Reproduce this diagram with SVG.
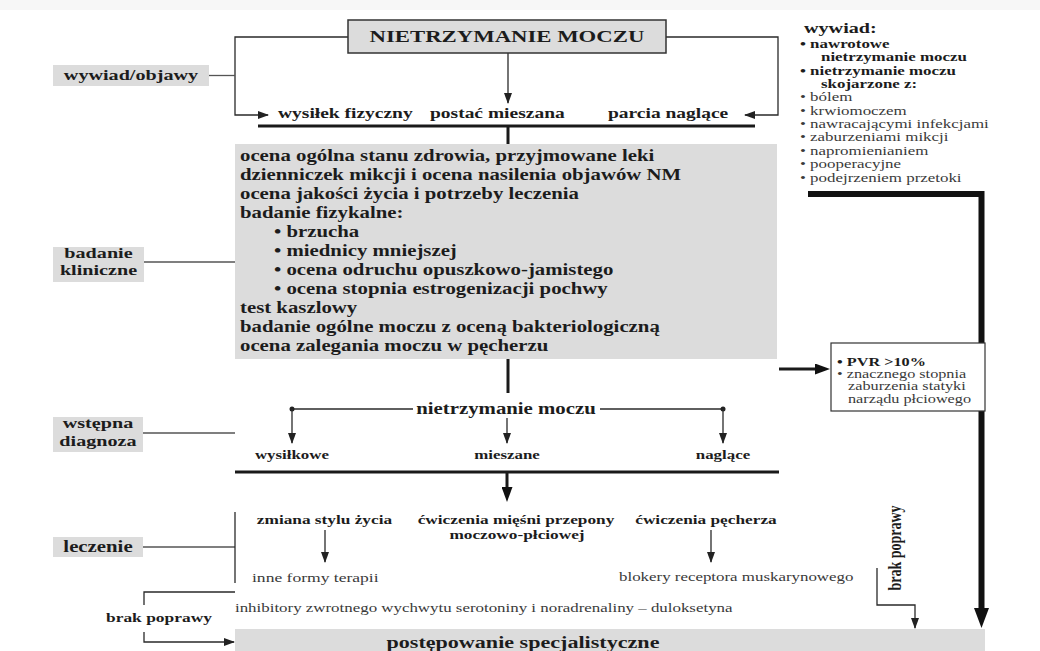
<svg xmlns="http://www.w3.org/2000/svg" width="1040" height="651" viewBox="0 0 1040 651">
<defs>
<marker id="a" markerUnits="userSpaceOnUse" markerWidth="11" markerHeight="8" refX="10" refY="4" orient="auto"><path d="M0,0 L11,4 L0,8 z" fill="#222"/></marker>
<marker id="b" markerUnits="userSpaceOnUse" markerWidth="15" markerHeight="11" refX="3" refY="5.5" orient="auto"><path d="M0,0 L15,5.5 L0,11 z" fill="#111"/></marker>
<marker id="c" markerUnits="userSpaceOnUse" markerWidth="20" markerHeight="15" refX="4" refY="7.5" orient="auto"><path d="M0,0 L20,7.5 L0,15 z" fill="#111"/></marker>
</defs>
<style>
text { font-family: "Liberation Serif", "Times New Roman", serif; fill: #1c1c1c; }
.b { font-weight: bold; }
.r { fill: #3a3a3a; }
.s { transform-box: fill-box; transform-origin: 0 50%; transform: scaleX(1.3); }
.m { text-anchor: middle; transform-box: fill-box; transform-origin: 50% 50%; transform: scaleX(1.3); }
.box { fill: #dcdcdc; }
.ln { stroke: #2a2a2a; stroke-width: 1.3; fill: none; }
.lg { stroke: #555; stroke-width: 1.3; fill: none; }
.th { stroke: #1a1a1a; stroke-width: 3; fill: none; }
.t15 { font-size: 15px; }
.t16 { font-size: 16px; }
.t13 { font-size: 13px; }
</style>
<rect x="0" y="0" width="1040" height="10" fill="#f7f7f7"/>

<g id="connectors">
  <path class="ln" d="M348,37 H235 V115 H268" marker-end="url(#a)"/>
  <path class="ln" d="M666,37 H778 V115 H745" marker-end="url(#a)"/>
  <path class="ln" d="M508,53 V103" marker-end="url(#a)"/>
  <path class="lg" d="M209,75.5 H235"/>
  <path class="th" d="M258,126 H755"/>
  <path class="th" stroke-width="2.5" d="M508,126 V144"/>
  <path class="lg" d="M144,262 H235"/>
  <path class="th" stroke-width="2.5" d="M508,359 V393"/>
  <path class="th" stroke-width="4.5" d="M779,369 H818" marker-end="url(#b)"/>
  <path class="lg" d="M143,433 H235"/>
  <path class="ln" d="M292,409 H413"/>
  <path class="ln" d="M600,409 H723"/>
  <circle cx="292" cy="409" r="2.5" fill="#222"/>
  <circle cx="723" cy="409" r="2.5" fill="#222"/>
  <path class="ln" d="M292,409 V443" marker-end="url(#a)"/>
  <path class="ln" d="M723,409 V443" marker-end="url(#a)"/>
  <path class="ln" d="M507,418 V443" marker-end="url(#a)"/>
  <path class="th" d="M235,472 H779"/>
  <path class="th" stroke-width="2.5" d="M507,472 V490" marker-end="url(#b)"/>
  <path class="lg" d="M143,547 H235"/>
  <path class="ln" d="M235,512 V583"/>
  <path class="ln" d="M325,530 V562" marker-end="url(#a)"/>
  <path class="ln" d="M711,530 V562" marker-end="url(#a)"/>
  <path class="ln" d="M235,592 H144 V605"/>
  <path class="ln" d="M144,632 V642 H234" marker-end="url(#a)"/>
  <path class="ln" d="M877,568 V605 H915 V628" marker-end="url(#a)"/>
  <path stroke="#111" stroke-width="6" fill="none" d="M808,194 H981.5 V612" marker-end="url(#c)"/>
</g>

<g id="title">
  <rect x="348" y="20" width="318" height="33" class="box" stroke="#333" stroke-width="1.5"/>
  <text x="507" y="42.5" class="b m" font-size="17.5">NIETRZYMANIE MOCZU</text>
</g>

<g id="label-wywiad">
  <rect x="53" y="65" width="156" height="21" class="box"/>
  <text x="131" y="80.5" class="b m" font-size="15.5">wywiad/objawy</text>
</g>

<g id="symptoms">
  <text x="278" y="118" class="b s t15">wysiłek fizyczny</text>
  <text x="430" y="118" class="b s t15">postać mieszana</text>
  <text x="608" y="118" class="b s t15">parcia naglące</text>
</g>

<g id="clinical-box">
  <rect x="235" y="144" width="542" height="215" class="box"/>
  <text x="240" y="161" class="b s t16">ocena ogólna stanu zdrowia, przyjmowane leki</text>
  <text x="240" y="180" class="b s t16">dzienniczek mikcji i ocena nasilenia objawów NM</text>
  <text x="240" y="199" class="b s t16">ocena jakości życia i potrzeby leczenia</text>
  <text x="240" y="218" class="b s t16">badanie fizykalne:</text>
  <text x="274" y="237" class="b s t16">• brzucha</text>
  <text x="274" y="256" class="b s t16">• miednicy mniejszej</text>
  <text x="274" y="275" class="b s t16">• ocena odruchu opuszkowo-jamistego</text>
  <text x="274" y="294" class="b s t16">• ocena stopnia estrogenizacji pochwy</text>
  <text x="240" y="313" class="b s t16">test kaszlowy</text>
  <text x="240" y="332" class="b s t16">badanie ogólne moczu z oceną bakteriologiczną</text>
  <text x="240" y="351" class="b s t16">ocena zalegania moczu w pęcherzu</text>
</g>

<g id="label-badanie">
  <rect x="53" y="247" width="91" height="35" class="box"/>
  <text x="98.5" y="258" class="b m" font-size="15.5">badanie</text>
  <text x="98.5" y="275" class="b m" font-size="15.5">kliniczne</text>
</g>

<g id="wywiad-panel">
  <text x="804" y="33" class="b s" font-size="15.5">wywiad:</text>
  <text x="800" y="48" class="b s t13">• nawrotowe</text>
  <text x="821" y="61" class="b s t13">nietrzymanie moczu</text>
  <text x="800" y="75" class="b s t13">• nietrzymanie moczu</text>
  <text x="821" y="88" class="b s t13">skojarzone z:</text>
  <text x="800" y="101" class="r s t13">• bólem</text>
  <text x="800" y="115" class="r s t13">• krwiomoczem</text>
  <text x="800" y="128" class="r s t13">• nawracającymi infekcjami</text>
  <text x="800" y="141" class="r s t13">• zaburzeniami mikcji</text>
  <text x="800" y="155" class="r s t13">• napromienianiem</text>
  <text x="800" y="168" class="r s t13">• pooperacyjne</text>
  <text x="800" y="182" class="r s t13">• podejrzeniem przetoki</text>
</g>

<g id="pvr-box">
  <rect x="831" y="343" width="154" height="68" fill="#fff" stroke="#333" stroke-width="1.2"/>
  <text x="837" y="366" class="b s" font-size="12.5">• PVR &gt;10%</text>
  <text x="837" y="378" class="r s" font-size="12.5">• znacznego stopnia</text>
  <text x="848" y="390" class="r s" font-size="12.5">zaburzenia statyki</text>
  <text x="848" y="403" class="r s" font-size="12.5">narządu płciowego</text>
</g>

<g id="label-diagnoza">
  <rect x="53" y="417" width="90" height="35" class="box"/>
  <text x="98" y="428" class="b m" font-size="15.5">wstępna</text>
  <text x="98" y="446" class="b m" font-size="15.5">diagnoza</text>
</g>

<g id="diagnosis">
  <text x="506" y="414" class="b m t16">nietrzymanie moczu</text>
  <text x="292" y="459" class="b m t13">wysiłkowe</text>
  <text x="507" y="459" class="b m t13">mieszane</text>
  <text x="723" y="459" class="b m t13">naglące</text>
</g>

<g id="label-leczenie">
  <rect x="53" y="537" width="90" height="20" class="box"/>
  <text x="98" y="552" class="b m" font-size="16">leczenie</text>
</g>

<g id="treatment">
  <text x="324.5" y="524" class="b m" font-size="13.3">zmiana stylu życia</text>
  <text x="516" y="524" class="b m" font-size="13.3">ćwiczenia mięśni przepony</text>
  <text x="517" y="539" class="b m" font-size="13.3">moczowo-płciowej</text>
  <text x="706" y="524" class="b m" font-size="13.3">ćwiczenia pęcherza</text>
  <text x="252" y="582" class="r s" font-size="13.5">inne formy terapii</text>
  <text x="619" y="581" class="r s t13">blokery receptora muskarynowego</text>
  <text x="235" y="612" class="r s t13">inhibitory zwrotnego wychwytu serotoniny i noradrenaliny – duloksetyna</text>
</g>

<g id="brak-poprawy-left">
  <text x="159" y="622" class="b m" font-size="13.4">brak poprawy</text>
</g>

<g id="brak-poprawy-right">
  <text transform="translate(901,548) rotate(-90) scale(1,1.3)" text-anchor="middle" class="b" font-size="14">brak poprawy</text>
</g>

<g id="specialist">
  <rect x="235" y="629" width="750" height="22" class="box"/>
  <text x="523" y="648" class="b m" font-size="17">postępowanie specjalistyczne</text>
</g>
</svg>
